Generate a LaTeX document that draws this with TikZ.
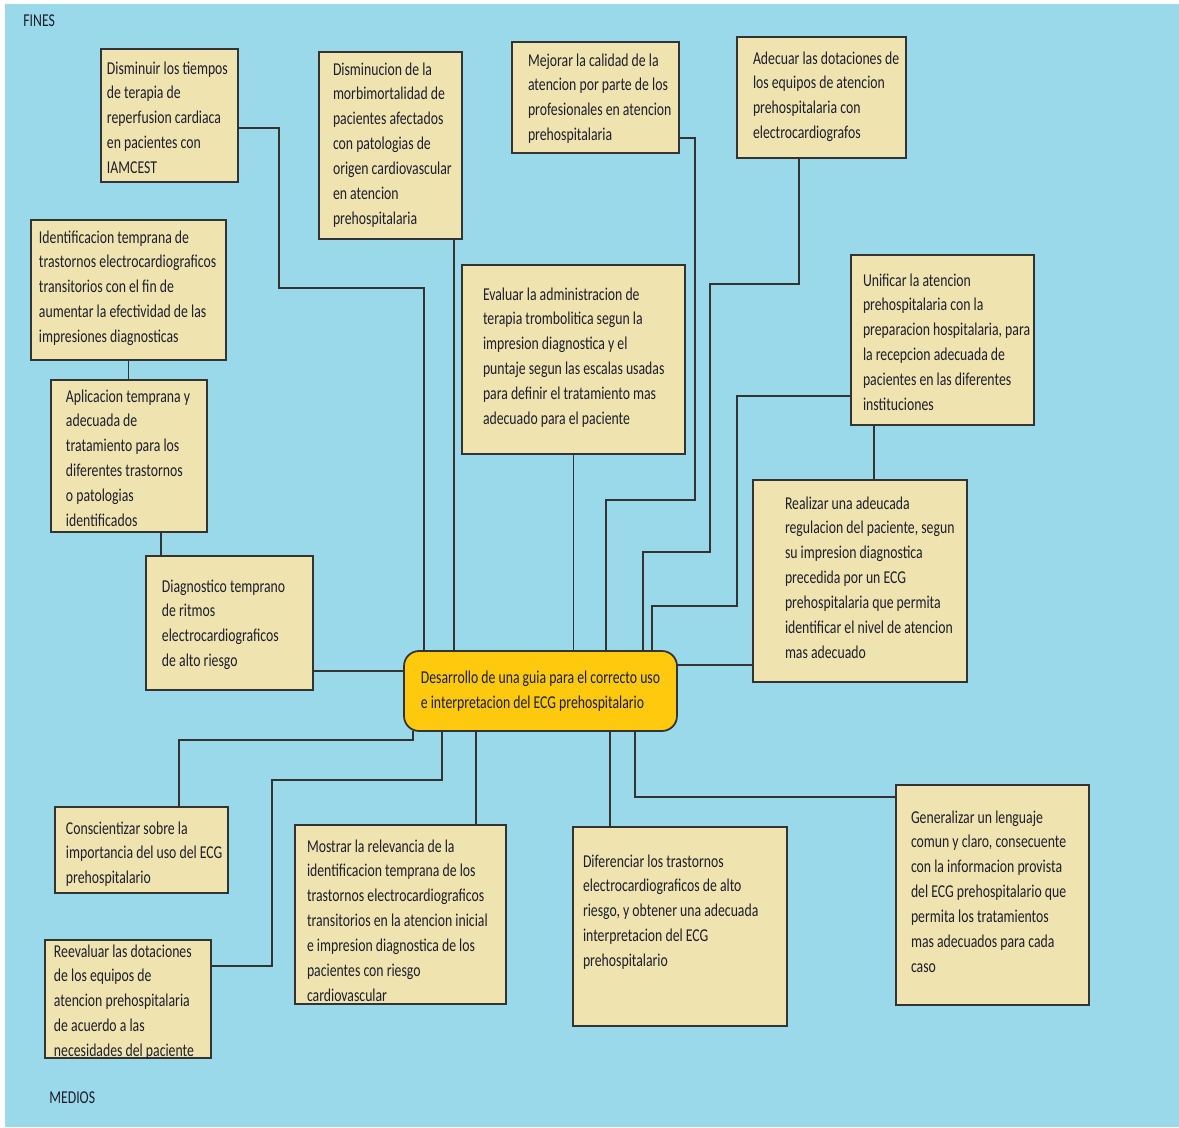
\documentclass[tikz,border=0pt]{standalone}
\usepackage{fontspec}
\setmainfont{Carlito}[FakeStretch=0.76]
\usepackage{tikz}
\definecolor{cielo}{RGB}{153,217,234}
\definecolor{papel}{RGB}{239,228,176}
\definecolor{oro}{RGB}{255,201,14}
\definecolor{tinta}{RGB}{30,30,45}
\newcommand{\letra}{\fontsize{10.3}{14.2}\selectfont}

\begin{document}
\begin{tikzpicture}[x=0.02cm, y=-0.02cm,
  caja/.style={rectangle, draw=black!80, fill=papel, line width=1pt, anchor=north west,
               inner sep=0pt, outer sep=0pt, align=flush left, font=\letra, text=tinta,
               execute at begin node={\leftskip=#1\rightskip=-0.3cm plus 1fil}},
  meta/.style={rectangle, rounded corners=0.3cm, draw=black!80, fill=oro, line width=1pt,
               minimum width=5.46cm, minimum height=1.6cm, inner sep=0pt, outer sep=0pt,
               align=left, font=\letra, text=tinta},
  linea/.style={draw=black!80, line width=1pt},
  rotulo/.style={font=\letra, text=tinta, anchor=west, inner sep=0pt},
]

\useasboundingbox[fill=white] (0,0) rectangle (1179,1127);
\fill[cielo] (5,4) rectangle (1179,1127);

\node[rotulo] (fines) at (23,21) {FINES};
\node[rotulo] (medios) at (49,1098) {MEDIOS};

% fines
\node[caja=0.12cm, text width=2.74cm, text height=0.50cm, text depth=2.16cm] (dis) at (101,49)
  {Disminuir los tiempos\\de terapia de\\reperfusion cardiaca\\en pacientes con\\IAMCEST};
\node[caja=0.28cm, text width=2.86cm, text height=0.46cm, text depth=3.28cm] (mor) at (319,52)
  {Disminucion de la\\morbimortalidad de\\pacientes afectados\\con patologias de\\origen cardiovascular\\en atencion\\prehospitalaria};
\node[caja=0.32cm, text width=3.34cm, text height=0.48cm, text depth=1.74cm] (mej) at (512,42)
  {Mejorar la calidad de la\\atencion por parte de los\\profesionales en atencion\\prehospitalaria};
\node[caja=0.32cm, text width=3.38cm, text height=0.54cm, text depth=1.88cm] (ade) at (737,37)
  {Adecuar las dotaciones de\\los equipos de atencion\\prehospitalaria con\\electrocardiografos};
\node[caja=0.16cm, text width=3.90cm, text height=0.46cm, text depth=2.34cm] (ide) at (31,220)
  {Identificacion temprana de\\trastornos electrocardiograficos\\transitorios con el fin de\\aumentar la efectividad de las\\impresiones diagnosticas};
\node[caja=0.42cm, text width=4.46cm, text height=0.70cm, text depth=3.08cm] (eva) at (462,265)
  {Evaluar la administracion de\\terapia trombolitica segun la\\impresion diagnostica y el\\puntaje segun las escalas usadas\\para definir el tratamiento mas\\adecuado para el paciente};
\node[caja=0.24cm, text width=3.66cm, text height=0.62cm, text depth=2.78cm] (uni) at (851,255)
  {Unificar la atencion\\prehospitalaria con la\\preparacion hospitalaria, para\\la recepcion adecuada de\\pacientes en las diferentes\\instituciones};
\node[caja=0.30cm, text width=3.12cm, text height=0.44cm, text depth=2.60cm] (apl) at (51,380)
  {Aplicacion temprana y\\adecuada de\\tratamiento para los\\diferentes trastornos\\o patologias\\identificados};
\node[caja=0.64cm, text width=4.28cm, text height=0.58cm, text depth=3.46cm] (rea) at (753,480)
  {Realizar una adeucada\\regulacion del paciente, segun\\su impresion diagnostica\\precedida por un ECG\\prehospitalaria que permita\\identificar el nivel de atencion\\mas adecuado};
\node[caja=0.32cm, text width=3.34cm, text height=0.72cm, text depth=1.96cm] (dia) at (146,556)
  {Diagnostico temprano\\de ritmos\\electrocardiograficos\\de alto riesgo};

\node[meta] (guia) at (540.5,691)
  {Desarrollo de una guia para el correcto uso\\e interpretacion del ECG prehospitalario};

% medios
\node[caja=0.22cm, text width=3.46cm, text height=0.54cm, text depth=1.18cm] (con) at (55,807)
  {Conscientizar sobre la\\importancia del uso del ECG\\prehospitalario};
\node[caja=0.18cm, text width=3.32cm, text height=0.34cm, text depth=2.02cm] (ree) at (45,940)
  {Reevaluar las dotaciones\\de los equipos de\\atencion prehospitalaria\\de acuerdo a las\\necesidades del paciente};
\node[caja=0.24cm, text width=4.22cm, text height=0.54cm, text depth=3.04cm] (mos) at (295,825)
  {Mostrar la relevancia de la\\identificacion temprana de los\\trastornos electrocardiograficos\\transitorios en la atencion inicial\\e impresion diagnostica de los\\pacientes con riesgo\\cardiovascular};
\node[caja=0.20cm, text width=4.28cm, text height=0.80cm, text depth=3.18cm] (dif) at (573,827)
  {Diferenciar los trastornos\\electrocardiograficos de alto\\riesgo, y obtener una adecuada\\interpretacion del ECG\\prehospitalario};
\node[caja=0.30cm, text width=3.86cm, text height=0.76cm, text depth=3.64cm] (gen) at (896,785)
  {Generalizar un lenguaje\\comun y claro, consecuente\\con la informacion provista\\del ECG prehospitalario que\\permita los tratamientos\\mas adecuados para cada\\caso};

% conectores de arriba
\draw[linea] ([yshift=-0.25cm]dis.east) -| (279,288) -| ([xshift=-2.33cm]guia.north);
\draw[linea] ([xshift=1.27cm]mor.south) -- ([xshift=1.27cm]mor.south |- guia.north);
\draw[linea] (eva.south) -- (eva.south |- guia.north);
\draw[linea] ([yshift=-0.81cm]mej.east) -| (695,500) -| ([xshift=1.31cm]guia.north);
\draw[linea] ([xshift=-0.45cm]ade.south) |- (710,284) |- (643,552) -- ([xshift=2.05cm]guia.north);
\draw[linea] ([yshift=-1.12cm]uni.west) -| (737,606) -| ([xshift=2.23cm]guia.north);
\draw[linea] ([xshift=-1.37cm]uni.south) -- ([xshift=-1.37cm]uni.south |- rea.north);
\draw[linea] ([yshift=-1.68cm]rea.west) -- ([yshift=-1.68cm]rea.west -| guia.east);
\draw[linea] (ide.south) -- (ide.south |- apl.north);
\draw[linea] ([xshift=0.64cm]apl.south) -- ([xshift=0.64cm]apl.south |- dia.north);
\draw[linea] ([yshift=-0.96cm]dia.east) -- ([yshift=-0.96cm]dia.east -| guia.west);

% conectores de abajo
\draw[linea] ([xshift=-2.55cm]guia.south) -- ++(0,9) -| ([xshift=0.75cm]con.north);
\draw[linea] ([xshift=-1.97cm]guia.south) |- (272,780) |- ([yshift=0.66cm]ree.east);
\draw[linea] ([xshift=1.51cm]mos.north |- guia.south) -- ([xshift=1.51cm]mos.north);
\draw[linea] ([xshift=-1.4cm]dif.north |- guia.south) -- ([xshift=-1.4cm]dif.north);
\draw[linea] ([xshift=1.89cm]guia.south) |- ([yshift=1.96cm]gen.west);

\end{tikzpicture}
\end{document}
